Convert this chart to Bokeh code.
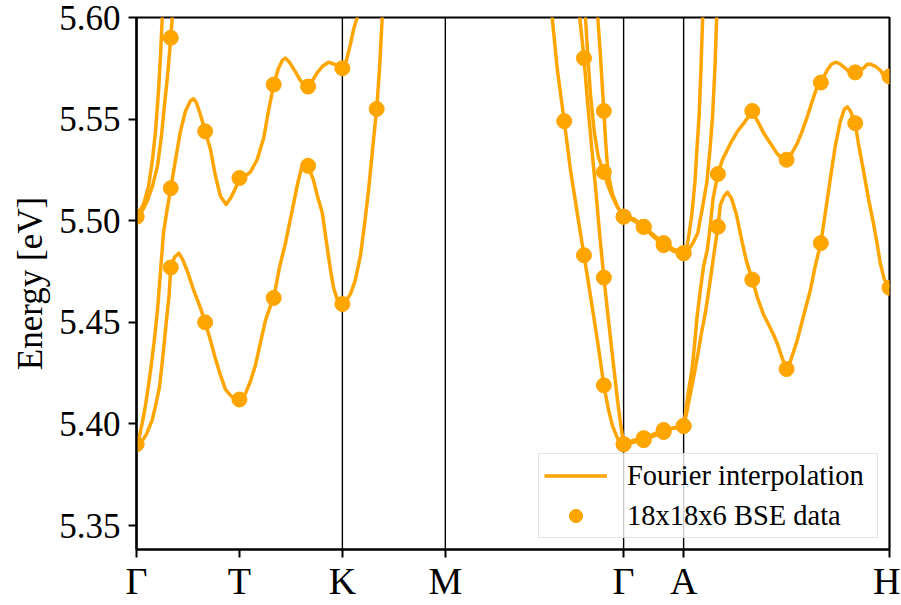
from bokeh.plotting import figure
from bokeh.models import (FixedTicker, Span, Legend, LegendItem, Range1d,
                          CustomJSTickFormatter, NumeralTickFormatter)
from bokeh.embed import file_html
from bokeh.resources import INLINE

# ---- high-symmetry path (k distance) ----
tick_k = [0.0, 1.0, 2.0, 3.0, 4.732, 5.315, 7.315]
tick_labels = ["Γ", "T", "K", "M", "Γ", "A", "H"]
vline_k = [2.0, 3.0, 4.732, 5.315]
y_ticks = [5.35, 5.40, 5.45, 5.50, 5.55, 5.60]

# ---- Fourier-interpolated bands ----
band1_k = [0, 0.049, 0.097, 0.153, 0.185, 0.223, 0.262, 0.291, 0.316, 0.333,
           0.369, 0.411, 0.447, 0.495, 0.554, 0.622, 0.667, 0.719, 0.767, 0.816,
           0.864, 0.913, 0.962, 1.010, 1.059, 1.107, 1.156, 1.204, 1.253, 1.301,
           1.333, 1.389, 1.447, 1.512, 1.564, 1.603, 1.632, 1.667, 1.719, 1.758,
           1.804, 1.855, 1.884, 1.914, 1.952, 2.0,
           2.040, 2.079, 2.127, 2.176, 2.215, 2.254, 2.293, 2.333, 2.360, 2.387, 2.409, 3.0, 4.002,
           4.038, 4.089, 4.155, 4.216, 4.284, 4.347, 4.410, 4.478, 4.540, 4.585, 4.624, 4.672, 4.732,
           4.830, 4.927, 5.024, 5.121, 5.218, 5.315,
           5.343, 5.381, 5.420, 5.459, 5.493, 5.527, 5.566, 5.605, 5.648, 5.673,
           5.707, 5.741, 5.780, 5.828, 5.877, 5.926, 5.982, 6.033, 6.090, 6.139,
           6.188, 6.236, 6.275, 6.315, 6.353, 6.418, 6.479, 6.547, 6.595, 6.648,
           6.692, 6.741, 6.789, 6.838, 6.877, 6.906, 6.935, 6.982, 7.013, 7.061,
           7.110, 7.158, 7.197, 7.226, 7.265, 7.315]
band1_E = [5.390, 5.391, 5.395, 5.402, 5.409, 5.418, 5.436, 5.451, 5.463, 5.477,
           5.482, 5.484, 5.481, 5.475, 5.466, 5.457, 5.450, 5.441, 5.432, 5.424,
           5.417, 5.414, 5.412, 5.412, 5.415, 5.421, 5.429, 5.440, 5.451, 5.458,
           5.462, 5.477, 5.489, 5.505, 5.518, 5.526, 5.528, 5.527, 5.520, 5.512,
           5.504, 5.486, 5.476, 5.467, 5.461, 5.459,
           5.461, 5.464, 5.471, 5.483, 5.498, 5.515, 5.535, 5.555, 5.574, 5.600, 5.621, 5.70, 5.62,
           5.600, 5.574, 5.549, 5.525, 5.503, 5.483, 5.463, 5.441, 5.419, 5.407, 5.399, 5.393, 5.390,
           5.391, 5.392, 5.394, 5.396, 5.398, 5.399,
           5.405, 5.415, 5.425, 5.436, 5.446, 5.455, 5.468, 5.482, 5.497, 5.508,
           5.512, 5.514, 5.511, 5.503, 5.491, 5.480, 5.471, 5.462, 5.454, 5.449,
           5.444, 5.438, 5.432, 5.427, 5.431, 5.441, 5.453, 5.466, 5.478, 5.489,
           5.504, 5.521, 5.537, 5.549, 5.555, 5.556, 5.554, 5.548, 5.538, 5.525,
           5.511, 5.499, 5.488, 5.479, 5.471, 5.467]

band2_k = [0, 0.029, 0.058, 0.087, 0.117, 0.146, 0.175, 0.204, 0.233, 0.262,
           0.296, 0.333, 0.379, 0.427, 0.476, 0.525, 0.554, 0.583, 0.622, 0.667,
           0.719, 0.767, 0.816, 0.871, 0.913, 0.962, 1.0, 1.059, 1.107, 1.172,
           1.237, 1.282, 1.333, 1.379, 1.418, 1.447, 1.486, 1.535, 1.593, 1.642,
           1.667, 1.709, 1.758, 1.807, 1.865, 1.923, 1.962, 2.0,
           2.040, 2.079, 2.113, 2.144, 2.166, 3.0, 4.274,
           4.306, 4.347, 4.381, 4.420, 4.458, 4.500, 4.540, 4.585, 4.636, 4.672, 4.695, 4.732,
           4.830, 4.927, 5.024, 5.121, 5.218, 5.315,
           5.333, 5.362, 5.391, 5.410, 5.430, 5.446, 5.478, 5.507, 5.546, 5.575,
           5.601, 5.648, 5.692, 5.770, 5.838, 5.900, 5.982, 6.033, 6.094, 6.159,
           6.223, 6.265, 6.315, 6.353, 6.418, 6.459, 6.515, 6.566, 6.612, 6.648,
           6.709, 6.751, 6.790, 6.838, 6.887, 6.926, 6.982, 7.013, 7.061, 7.100,
           7.129, 7.178, 7.226, 7.265, 7.315]
band2_E = [5.390, 5.394, 5.401, 5.409, 5.419, 5.430, 5.442, 5.456, 5.475, 5.494,
           5.505, 5.516, 5.530, 5.544, 5.554, 5.559, 5.560, 5.558, 5.552, 5.544,
           5.535, 5.522, 5.512, 5.508, 5.511, 5.516, 5.521, 5.522, 5.524, 5.530,
           5.541, 5.554, 5.567, 5.575, 5.579, 5.580, 5.578, 5.574, 5.569, 5.566,
           5.566, 5.569, 5.573, 5.576, 5.578, 5.577, 5.576, 5.575,
           5.579, 5.587, 5.595, 5.600, 5.613, 5.72, 5.616,
           5.600, 5.580, 5.559, 5.537, 5.517, 5.493, 5.472, 5.451, 5.428, 5.412, 5.403, 5.390,
           5.392, 5.393, 5.395, 5.397, 5.398, 5.399,
           5.405, 5.416, 5.425, 5.433, 5.444, 5.453, 5.466, 5.477, 5.486, 5.498,
           5.511, 5.523, 5.530, 5.538, 5.544, 5.548, 5.554, 5.549, 5.543, 5.538,
           5.533, 5.531, 5.530, 5.532, 5.538, 5.543, 5.551, 5.559, 5.566, 5.568,
           5.574, 5.577, 5.578, 5.577, 5.575, 5.573, 5.573, 5.574, 5.575, 5.577,
           5.577, 5.576, 5.574, 5.571, 5.571]

band3_k = [0, 0.058, 0.107, 0.155, 0.204, 0.243, 0.272, 0.301, 0.333, 0.347,
           0.359, 3.0, 4.342, 4.361, 4.381, 4.410, 4.449, 4.488, 4.540, 4.575,
           4.621, 4.669, 4.732, 4.830, 4.927, 5.024, 5.121, 5.218, 5.315, 5.367,
           5.406, 5.452, 5.493, 5.541, 5.571, 5.597, 5.620, 5.636, 5.654, 7.315]
band3_E = [5.502, 5.505, 5.510, 5.517, 5.527, 5.542, 5.557, 5.571, 5.590, 5.600,
           5.613, 5.75, 5.616, 5.600, 5.584, 5.562, 5.543, 5.531, 5.524, 5.518,
           5.512, 5.507, 5.502, 5.500, 5.497, 5.492, 5.488, 5.485, 5.484, 5.486,
           5.489, 5.494, 5.505, 5.519, 5.535, 5.552, 5.576, 5.600, 5.618, 5.70]

band4_k = [0, 0.068, 0.117, 0.155, 0.185, 0.214, 0.233, 0.250, 0.262, 3.0,
           4.459, 4.481, 4.507, 4.540, 4.556, 4.575, 4.595, 4.624, 4.672, 4.732,
           4.830, 4.927, 5.024, 5.121, 5.218, 5.315, 5.347, 5.369, 5.395, 5.425,
           5.444, 5.466, 5.483, 5.500, 5.512, 7.315]
band4_E = [5.502, 5.508, 5.517, 5.530, 5.544, 5.564, 5.581, 5.600, 5.616, 5.78,
           5.616, 5.600, 5.581, 5.554, 5.540, 5.527, 5.520, 5.513, 5.507, 5.502,
           5.501, 5.497, 5.493, 5.489, 5.486, 5.484, 5.487, 5.494, 5.503, 5.519,
           5.535, 5.552, 5.574, 5.600, 5.618, 5.70]

# ---- 18x18x6 BSE data points ----
dots1_k = [0, 0.333, 0.667, 1.0, 1.333, 1.667, 2.0, 2.333, 4.155, 4.347, 4.540, 4.732,
           4.927, 5.121, 5.315, 5.648, 5.982, 6.315, 6.648, 6.982, 7.315]
dots1_E = [5.390, 5.477, 5.450, 5.412, 5.462, 5.527, 5.459, 5.555, 5.549, 5.483, 5.419, 5.390,
           5.392, 5.396, 5.399, 5.497, 5.471, 5.427, 5.489, 5.548, 5.467]
dots2_k = [0, 0.333, 0.667, 1.0, 1.333, 1.667, 2.0, 4.347, 4.540, 4.732,
           4.927, 5.121, 5.315, 5.648, 5.982, 6.315, 6.648, 6.982, 7.315]
dots2_E = [5.390, 5.516, 5.544, 5.521, 5.567, 5.566, 5.575, 5.580, 5.472, 5.390,
           5.393, 5.397, 5.399, 5.523, 5.554, 5.530, 5.568, 5.573, 5.571]
dots3_k = [0, 0.333, 4.540, 4.732, 4.927, 5.121, 5.315]
dots3_E = [5.502, 5.590, 5.524, 5.502, 5.497, 5.488, 5.484]
dots4_k = [0, 4.540, 4.732, 4.927, 5.121, 5.315]
dots4_E = [5.502, 5.554, 5.502, 5.497, 5.489, 5.484]

ORANGE = "#FFA500"
SERIF = "Liberation Serif"

p = figure(frame_width=753, frame_height=532,
           x_range=Range1d(tick_k[0], tick_k[-1]), y_range=Range1d(5.3382, 5.60),
           output_backend="svg", toolbar_location=None,
           min_border_left=136, min_border_right=11, min_border_top=17, min_border_bottom=52)
p.xgrid.visible = False
p.ygrid.visible = False
p.background_fill_color = "white"
p.border_fill_color = "white"
p.outline_line_color = "black"
p.outline_line_width = 2.2
p.outline_line_alpha = 1

for k in vline_k:
    p.add_layout(Span(location=k, dimension="height", line_color="black",
                      line_width=1.4, level="underlay"))

lines = p.multi_line(xs=[band1_k, band2_k, band3_k, band4_k],
                     ys=[band1_E, band2_E, band3_E, band4_E],
                     line_color=ORANGE, line_width=3.5, line_join="round")
dots = p.scatter(x=dots1_k + dots2_k + dots3_k + dots4_k,
                 y=dots1_E + dots2_E + dots3_E + dots4_E,
                 size=15, fill_color=ORANGE, line_color=ORANGE, marker="circle")

for ax in (p.xaxis[0], p.yaxis[0]):
    ax.axis_line_width = 2.2
    ax.axis_line_color = "black"
    ax.major_tick_line_width = 2
    ax.major_tick_line_color = "black"
    ax.major_tick_in = 0
    ax.major_tick_out = 8
    ax.minor_tick_line_color = None
    ax.major_label_text_font = SERIF
    ax.major_label_text_color = "black"
    ax.axis_label_text_font = SERIF
    ax.axis_label_text_font_style = "normal"
    ax.axis_label_text_color = "black"

p.xaxis.ticker = FixedTicker(ticks=tick_k)
p.xaxis.formatter = CustomJSTickFormatter(args=dict(pos=tick_k, lab=tick_labels), code="""
let best = 0;
for (let i = 0; i < pos.length; i++) {
  if (Math.abs(pos[i] - tick) < Math.abs(pos[best] - tick)) best = i;
}
return lab[best];
""")
p.xaxis.major_label_text_font_size = "38px"
p.xaxis.major_label_standoff = 2

p.yaxis.ticker = FixedTicker(ticks=y_ticks)
p.yaxis.formatter = NumeralTickFormatter(format="0.00")
p.yaxis.major_label_text_font_size = "35px"
p.yaxis.major_label_standoff = 8
p.yaxis.axis_label = "Energy [eV]"
p.yaxis.axis_label_text_font_size = "35px"
p.yaxis.axis_label_standoff = 6

legend = Legend(items=[LegendItem(label="Fourier interpolation", renderers=[lines]),
                       LegendItem(label="18x18x6 BSE data", renderers=[dots])],
                location="bottom_right")
legend.label_text_font = SERIF
legend.label_text_font_size = "28.5px"
legend.label_text_color = "black"
legend.glyph_width = 63
legend.glyph_height = 33
legend.label_height = 33
legend.label_width = 245
legend.spacing = 7
legend.padding = 5
legend.margin = 11
legend.label_standoff = 20
legend.border_line_color = "#cccccc"
legend.border_line_width = 1.3
legend.background_fill_alpha = 0.8
p.add_layout(legend)

open("out.html", "w").write(file_html(p, INLINE))
